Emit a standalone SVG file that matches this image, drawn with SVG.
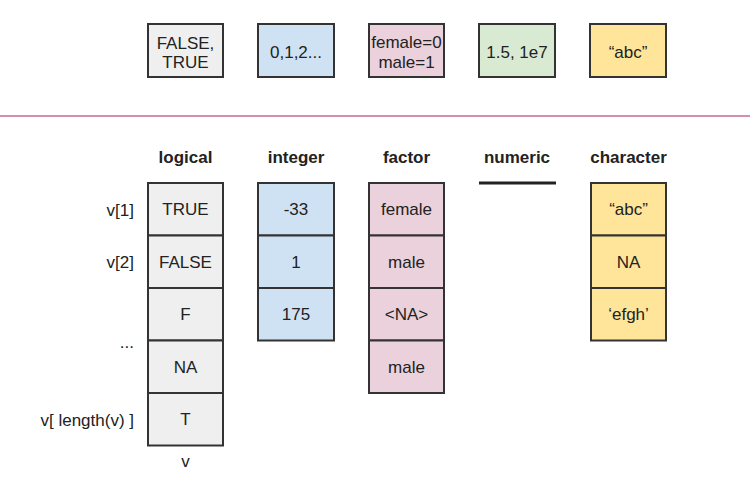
<svg xmlns="http://www.w3.org/2000/svg" width="750" height="500" viewBox="0 0 750 500">
<style>
text{font-family:"Liberation Sans",Arial,sans-serif;font-size:17px;fill:#222;text-anchor:middle}
.h{font-weight:bold}
.r{text-anchor:end}
.g,.b,.p,.gr,.y{stroke:#333;stroke-width:2}
.g{fill:#efefef}.b{fill:#cfe2f3}.p{fill:#ead1dc}.gr{fill:#d9ead3}.y{fill:#ffe599}
</style>
<rect width="750" height="500" fill="#fff"/>
<g id="top-logical"><rect class="g" x="148" y="24" width="75" height="53"/><text x="185.5" y="49">FALSE,</text><text x="185.5" y="68">TRUE</text></g>
<g id="top-integer"><rect class="b" x="258" y="24" width="76" height="53"/><text x="296" y="58">0,1,2...</text></g>
<g id="top-factor"><rect class="p" x="369" y="24" width="75" height="53"/><text x="406.5" y="48">female=0</text><text x="406.5" y="68">male=1</text></g>
<g id="top-numeric"><rect class="gr" x="479" y="24" width="76" height="53"/><text x="517" y="58">1.5, 1e7</text></g>
<g id="top-character"><rect class="y" x="590" y="24" width="76" height="53"/><text x="628" y="58">“abc”</text></g>
<line x1="0" y1="116" x2="750" y2="116" stroke="#d28fb0" stroke-width="2"/>
<g id="headers">
<text class="h" x="185.5" y="163">logical</text>
<text class="h" x="296" y="163">integer</text>
<text class="h" x="406.5" y="163">factor</text>
<text class="h" x="517" y="163">numeric</text>
<text class="h" x="628.5" y="163">character</text>
</g>
<g id="labels">
<text class="r" x="134" y="216">v[1]</text>
<text class="r" x="134" y="268">v[2]</text>
<text class="r" x="134" y="348">...</text>
<text class="r" x="134" y="426">v[ length(v) ]</text>
<text x="185.5" y="467">v</text>
</g>
<g id="col-logical">
<rect class="g" x="148" y="183" width="75" height="52.5"/><text x="185.5" y="215">TRUE</text>
<rect class="g" x="148" y="235.5" width="75" height="52.5"/><text x="185.5" y="268">FALSE</text>
<rect class="g" x="148" y="288" width="75" height="52.5"/><text x="185.5" y="320">F</text>
<rect class="g" x="148" y="340.5" width="75" height="52.5"/><text x="185.5" y="373">NA</text>
<rect class="g" x="148" y="393" width="75" height="52.5"/><text x="185.5" y="425">T</text>
</g>
<g id="col-integer">
<rect class="b" x="258" y="183" width="76" height="52.5"/><text x="296" y="215">-33</text>
<rect class="b" x="258" y="235.5" width="76" height="52.5"/><text x="296" y="268">1</text>
<rect class="b" x="258" y="288" width="76" height="52.5"/><text x="296" y="320">175</text>
</g>
<g id="col-factor">
<rect class="p" x="369" y="183" width="75" height="52.5"/><text x="406.5" y="215">female</text>
<rect class="p" x="369" y="235.5" width="75" height="52.5"/><text x="406.5" y="268">male</text>
<rect class="p" x="369" y="288" width="75" height="52.5"/><text x="406.5" y="320">&lt;NA&gt;</text>
<rect class="p" x="369" y="340.5" width="75" height="52.5"/><text x="406.5" y="373">male</text>
</g>
<g id="col-numeric"><line x1="479" y1="183" x2="556" y2="183" stroke="#222" stroke-width="3"/></g>
<g id="col-character">
<rect class="y" x="591" y="183" width="75" height="52.5"/><text x="628.5" y="215">“abc”</text>
<rect class="y" x="591" y="235.5" width="75" height="52.5"/><text x="628.5" y="268">NA</text>
<rect class="y" x="591" y="288" width="75" height="52.5"/><text x="628.5" y="320">‘efgh’</text>
</g>
<g id="connectors"/>
</svg>
